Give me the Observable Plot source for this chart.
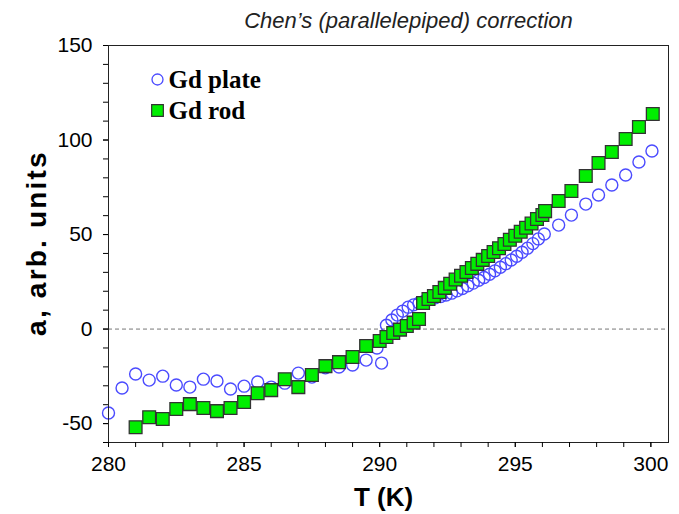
<!DOCTYPE html>
<html>
<head>
<meta charset="utf-8">
<script src="https://cdn.jsdelivr.net/npm/d3@7"></script>
<script src="https://cdn.jsdelivr.net/npm/@observablehq/plot@0.6"></script>
<style>
  html, body { margin: 0; padding: 0; background: #fff; }
  #chart { width: 679px; height: 514px; }
</style>
</head>
<body>
<div id="chart"></div>
<script>
// Gd plate (open circles)
const plateT = [280.0, 280.5, 281.0, 281.5, 282.0, 282.5, 283.0, 283.5, 284.0, 284.5,
  285.0, 285.5, 286.0, 286.5, 287.0, 287.5, 288.0, 288.5, 289.0, 289.5, 289.9, 290.07,
  290.25, 290.45, 290.65, 290.85, 291.05, 291.25, 291.45, 291.65, 291.85, 292.05,
  292.25, 292.45, 292.65, 292.85, 293.05, 293.25, 293.45, 293.65, 293.85, 294.05,
  294.25, 294.45, 294.65, 294.85, 295.05, 295.25, 295.45, 295.65, 295.85, 296.07,
  296.6, 297.07, 297.6, 298.07, 298.56, 299.07, 299.56, 300.04];
const plateA = [-44.4, -31.2, -23.8, -27.0, -24.9, -29.6, -30.7, -26.5, -27.5, -31.7,
  -30.2, -28.0, -30.7, -28.6, -23.3, -25.4, -20.5, -20.1, -19.0, -16.4, -10.0, -18.0,
  2.0, 4.8, 7.4, 9.5, 11.6, 12.8, 13.8, 14.8, 15.8, 16.5,
  17.2, 18.0, 19.0, 20.2, 21.5, 22.9, 24.3, 25.8, 27.3, 29.0,
  30.8, 32.7, 34.6, 36.5, 38.5, 40.6, 42.8, 45.2, 47.7, 50.3,
  55.0, 60.3, 66.1, 70.9, 76.2, 81.5, 88.4, 94.2];

// Gd rod (filled squares)
const rodT = [281.0, 281.5, 282.0, 282.5, 283.0, 283.5, 284.0, 284.5, 285.0, 285.5,
  286.0, 286.5, 287.0, 287.5, 288.0, 288.5, 289.0, 289.5, 290.0,
  290.25, 290.5, 290.75, 291.0, 291.25, 291.45, 291.6, 291.8, 292.0, 292.2,
  292.4, 292.6, 292.8, 293.0, 293.2, 293.4, 293.6, 293.8, 294.0, 294.2,
  294.4, 294.6, 294.8, 295.0, 295.2, 295.4, 295.6, 295.8, 296.0, 296.1,
  296.6, 297.07, 297.6, 298.07, 298.56, 299.07, 299.56, 300.07];
const rodA = [-51.9, -46.6, -47.6, -42.3, -39.7, -41.8, -43.4, -41.8, -38.6, -33.9,
  -32.3, -26.5, -30.7, -24.3, -19.6, -17.5, -14.8, -9.0, -6.3,
  -4.2, -2.1, -0.3, 1.6, 3.4, 5.3, 13.8, 15.9, 17.5, 19.6,
  21.8, 24.0, 26.2, 28.2, 30.2, 32.3, 34.5, 36.6, 38.7, 40.8,
  42.8, 45.0, 47.2, 49.4, 51.5, 53.6, 55.8, 58.2, 60.3, 62.4,
  67.7, 73.0, 81.0, 87.8, 93.7, 100.5, 106.9, 113.8];

const xTicks = [280, 285, 290, 295, 300];
const xMinor = [280, 281, 282, 283, 284, 285, 286, 287, 288, 289, 290, 291, 292, 293, 294, 295, 296, 297, 298, 299, 300];
const yTicks = [-50, 0, 50, 100, 150];
const yMinor = [-60, -50, -40, -30, -20, -10, 0, 10, 20, 30, 40, 50, 60, 70, 80, 90, 100, 110, 120, 130, 140, 150];
const zeroLine = [0];

const titleText = "Chen\u2019s (parallelepiped) correction";
const xLabel = "T (K)";
const yLabel = "a, arb. units";
const seriesNames = ["Gd plate", "Gd rod"];

const plate = plateT.map((t, i) => ({T: t, a: plateA[i]}));
const rod = rodT.map((t, i) => ({T: t, a: rodA[i]}));

const sans = "'Liberation Sans', Arial, Helvetica, sans-serif";
const serif = "'Liberation Serif', 'Times New Roman', serif";
const blue = "#4b4bff";
const green = "#00ee00";

const chart = Plot.plot({
  width: 679,
  height: 514,
  marginLeft: 108,
  marginRight: 11,
  marginTop: 45,
  marginBottom: 72,
  x: {domain: [280, 300.65]},
  y: {domain: [-60, 150]},
  style: {fontFamily: sans, fontSize: "21px", color: "#000", background: "#fff"},
  marks: [
    Plot.ruleY(zeroLine, {stroke: "#777", strokeWidth: 1, strokeDasharray: "4,3"}),
    Plot.dot(plate, {x: "T", y: "a", r: 6, stroke: blue, strokeWidth: 1.4, fill: "none"}),
    Plot.dot(rod, {x: "T", y: "a", symbol: "square", r: 7.2, fill: green, stroke: "#333", strokeWidth: 1.3}),
    Plot.frame({stroke: "#222", strokeWidth: 1}),
    Plot.axisX({ticks: xMinor, tickSize: 5, tickFormat: () => "", label: null}),
    Plot.axisX({ticks: xTicks, tickSize: 5, tickPadding: 9, fontSize: 21, tickFormat: d => String(d), label: null}),
    Plot.axisY({ticks: yMinor, tickSize: 5, tickFormat: () => "", label: null}),
    Plot.axisY({ticks: yTicks, tickSize: 5, tickPadding: 11, fontSize: 21, tickFormat: d => String(d), label: null}),
    Plot.text([xLabel], {frameAnchor: "bottom", dx: -5, dy: 55, fontSize: 26, fontWeight: "bold", textAnchor: "middle", lineAnchor: "middle"}),
    Plot.text([yLabel], {frameAnchor: "left", dx: -71, dy: -1, rotate: -90, fontSize: 28, fontWeight: "bold", textAnchor: "middle", lineAnchor: "middle"}),
    Plot.text([titleText], {frameAnchor: "top", dx: 20, dy: -25, fontSize: 22, fontStyle: "italic", textAnchor: "middle", lineAnchor: "middle", fill: "#222"}),
    Plot.dot([seriesNames[0]], {frameAnchor: "top-left", dx: 49, dy: 34, r: 5.5, stroke: blue, strokeWidth: 1.3, fill: "none"}),
    Plot.dot([seriesNames[1]], {frameAnchor: "top-left", dx: 49, dy: 65, symbol: "square", r: 6.6, fill: green, stroke: "#333", strokeWidth: 1.2}),
    Plot.text([seriesNames[0]], {frameAnchor: "top-left", dx: 60, dy: 34, textAnchor: "start", lineAnchor: "middle", fontFamily: serif, fontWeight: "bold", fontSize: 25}),
    Plot.text([seriesNames[1]], {frameAnchor: "top-left", dx: 60, dy: 65, textAnchor: "start", lineAnchor: "middle", fontFamily: serif, fontWeight: "bold", fontSize: 25})
  ]
});
// widen the rotated y label to the reference's length
d3.select(chart).selectAll("text").filter(function () { return this.textContent === yLabel; })
  .style("letter-spacing", "2.2px");
document.getElementById("chart").appendChild(chart);
</script>
</body>
</html>
